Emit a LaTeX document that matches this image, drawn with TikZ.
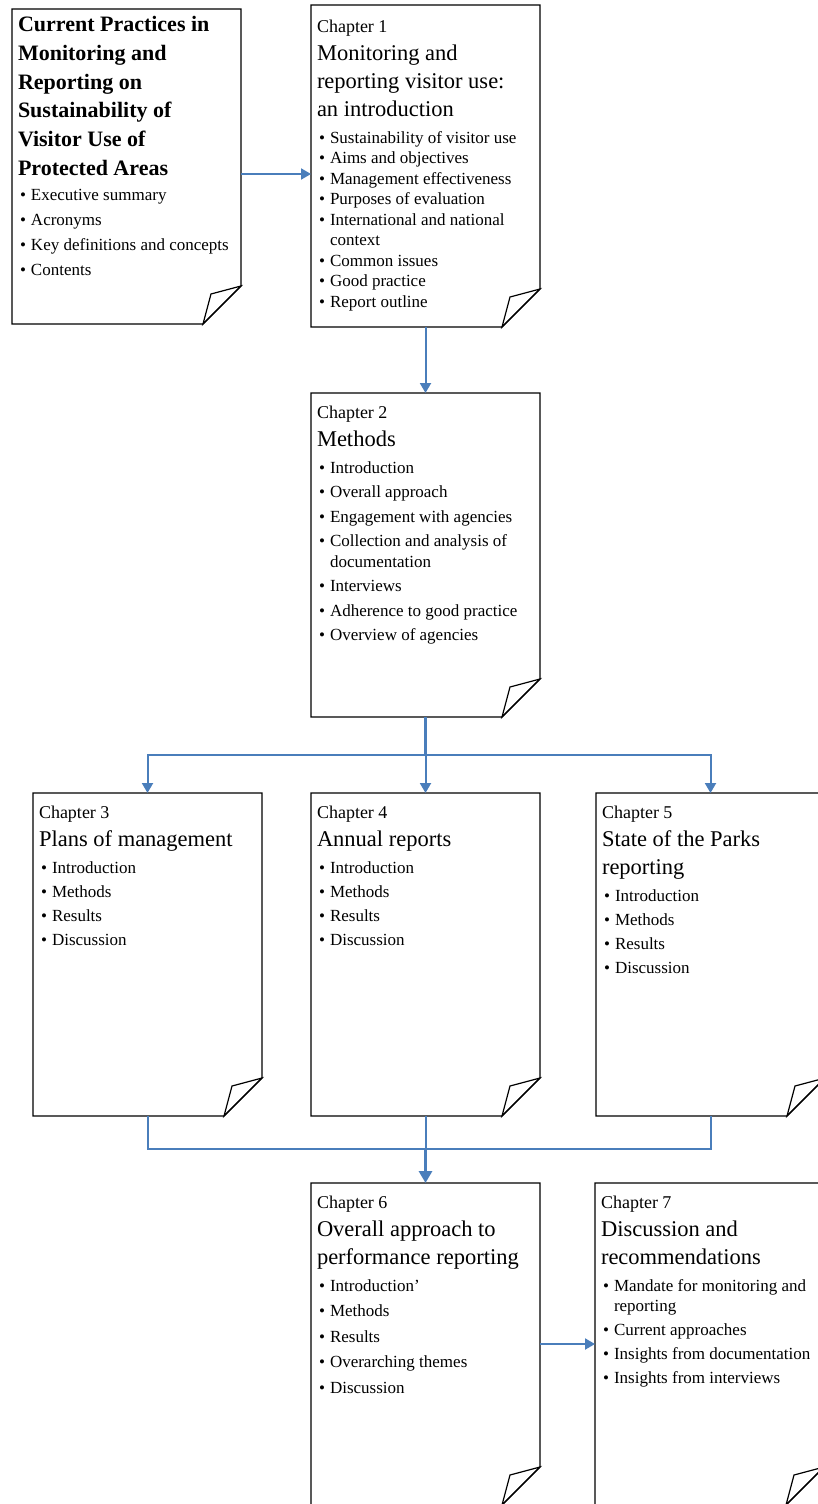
\documentclass[tikz,border=0pt]{standalone}
\usepackage{fontspec}
\setmainfont{Liberation Serif}
\usepackage{enumitem}
\usetikzlibrary{arrows.meta}

\definecolor{flowblue}{HTML}{4A7EBB}

\newenvironment{bul}[1][]{\fontsize{17}{20.5}\selectfont\raggedright
  \begin{itemize}[leftmargin=13pt,labelsep=5pt,itemsep=3.5pt,parsep=0pt,topsep=6.5pt,partopsep=0pt,#1]}
  {\end{itemize}}
\newcommand{\pagebox}[2][323pt]{\parbox[t][#1][t]{217pt}{#2}}
\newcommand{\chaplabel}[2][25pt]{\rule{0pt}{#1}{\fontsize{18}{20}\selectfont #2}\par}
\newcommand{\chaptitle}[1]{{\fontsize{22.5}{28}\selectfont #1\par}}
\newcommand{\heading}[1]{{\fontsize{22}{28.8}\selectfont\bfseries\rule{0pt}{22.5pt}#1\par}}
\newcommand{\dogear}[1]{%
  \draw[pageline] (#1.north west) -- (#1.north east) -- ([yshift=38pt]#1.south east)
    -- ([xshift=-38pt]#1.south east) -- (#1.south west) -- cycle;
  \draw[pageline] ([yshift=38pt]#1.south east) -- ([xshift=-30pt,yshift=30pt]#1.south east)
    -- ([xshift=-38pt]#1.south east) -- cycle;}

\tikzset{
  page/.style={anchor=north west, inner xsep=6pt, inner ysep=0pt, outer sep=0pt},
  pageline/.style={line width=1.2pt, line join=miter},
  flow/.style={flowblue, line width=2pt},
  flowarrow/.style={-{Triangle[width=11pt,length=10pt]}},
  trunk/.style={flowblue, line width=3pt},
  trunkarrow/.style={-{Triangle[width=13pt,length=12pt]}},
}

\begin{document}
\begin{tikzpicture}[x=1pt, y=-1pt]
  \useasboundingbox (0,0) rectangle (818,1504);
  \fill[white] (0,0) rectangle (818,1504);

  \node[page] (title) at (12,9) {\pagebox[315pt]{%
    \heading{Current Practices in\\ Monitoring and\\ Reporting on\\ Sustainability of\\ Visitor Use of\\ Protected Areas}
    \begin{bul}[itemsep=4.5pt,topsep=4.3pt]
      \item Executive summary
      \item Acronyms
      \item Key definitions and concepts
      \item Contents
    \end{bul}}};

  \node[page] (ch1) at (311,5) {\pagebox[322pt]{%
    \chaplabel[28pt]{Chapter 1}
    \chaptitle{Monitoring and\\ reporting visitor use:\\ an introduction}
    \begin{bul}[itemsep=0pt,topsep=6pt]
      \item Sustainability of visitor use
      \item Aims and objectives
      \item Management effectiveness
      \item Purposes of evaluation
      \item International and national context
      \item Common issues
      \item Good practice
      \item Report outline
    \end{bul}}};

  \node[page] (ch2) at (311,393) {\pagebox[324pt]{%
    \chaplabel{Chapter 2}
    \chaptitle{Methods}
    \begin{bul}[itemsep=4pt]
      \item Introduction
      \item Overall approach
      \item Engagement with agencies
      \item Collection and analysis of documentation
      \item Interviews
      \item Adherence to good practice
      \item Overview of agencies
    \end{bul}}};

  \node[page] (ch3) at (33,793) {\pagebox{%
    \chaplabel{Chapter 3}
    \chaptitle{Plans of management}
    \begin{bul}
      \item Introduction
      \item Methods
      \item Results
      \item Discussion
    \end{bul}}};

  \node[page] (ch4) at (311,793) {\pagebox{%
    \chaplabel{Chapter 4}
    \chaptitle{Annual reports}
    \begin{bul}
      \item Introduction
      \item Methods
      \item Results
      \item Discussion
    \end{bul}}};

  \node[page] (ch5) at (596,793) {\pagebox{%
    \chaplabel{Chapter 5}
    \chaptitle{State of the Parks\\ reporting}
    \begin{bul}
      \item Introduction
      \item Methods
      \item Results
      \item Discussion
    \end{bul}}};

  \node[page] (ch6) at (311,1183) {\pagebox[322pt]{%
    \chaplabel{Chapter 6}
    \chaptitle{Overall approach to\\ performance reporting}
    \begin{bul}[itemsep=5pt]
      \item Introduction’
      \item Methods
      \item Results
      \item Overarching themes
      \item Discussion
    \end{bul}}};

  \node[page] (ch7) at (595,1183) {\pagebox[322pt]{%
    \chaplabel{Chapter 7}
    \chaptitle{Discussion and\\ recommendations}
    \begin{bul}
      \item Mandate for monitoring and reporting
      \item Current approaches
      \item Insights from documentation
      \item Insights from interviews
    \end{bul}}};

  \foreach \n in {title,ch1,ch2,ch3,ch4,ch5,ch6,ch7}
    \dogear{\n};

  \coordinate (t1) at ([yshift=-7.5pt]title.east);
  \draw[flow,flowarrow] (t1) -- (t1 -| ch1.west);
  \draw[flow,flowarrow] (ch1.south) -- (ch2.north);

  \coordinate (split) at ([yshift=-38pt]ch2.south);
  \draw[trunk] (ch2.south) -- (split);
  \draw[flow,flowarrow] (split) -| (ch3.north);
  \draw[flow,flowarrow] (split) -- (ch4.north);
  \draw[flow,flowarrow] (split) -| (ch5.north);

  \coordinate (merge) at ([yshift=-33pt]ch4.south);
  \draw[flow] (ch3.south) |- (merge);
  \draw[flow] (ch5.south) |- (merge);
  \draw[flow] (ch4.south) -- (merge);
  \draw[trunk,trunkarrow] (merge) -- (ch6.north);

  \draw[flow,flowarrow] (ch6.east) -- (ch7.west);
\end{tikzpicture}
\end{document}
